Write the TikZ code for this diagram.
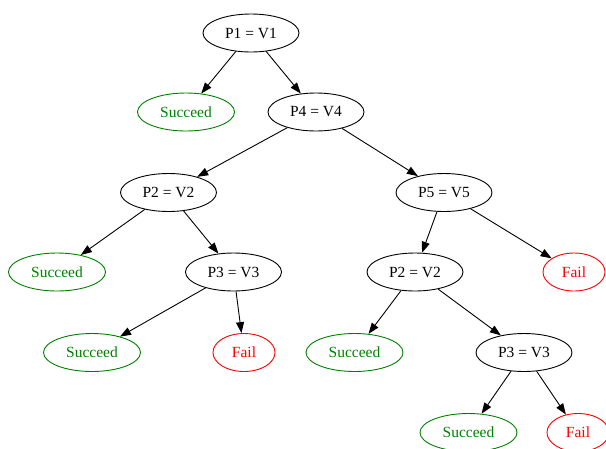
\documentclass[tikz,border=0pt]{standalone}
\usepackage{fontspec}
\setmainfont{Liberation Serif}
\usetikzlibrary{shapes.geometric,arrows.meta}
\definecolor{okgreen}{RGB}{0,128,0}
\definecolor{badred}{RGB}{255,0,0}
\begin{document}
\begin{tikzpicture}[x=1pt,y=-1pt,
  base/.style={ellipse,draw,line width=0.9pt,inner sep=0pt,minimum height=38pt,
    font=\fontsize{15.5}{18}\selectfont},
  cond/.style={base,minimum width=96pt,draw=black,text=black},
  okbox/.style={base,minimum width=97pt,draw=okgreen,text=okgreen},
  failbox/.style={base,minimum width=62pt,draw=badred,text=badred},
  edge/.style={line width=0.9pt,-{Triangle[length=11pt,width=8pt]}}]
\useasboundingbox (0,0) rectangle (606,448);
\clip (0,0) rectangle (606,448);
\node[cond] (p1) at (251,33) {P1 = V1};
\node[okbox] (s1) at (186,112) {Succeed};
\node[cond] (p4) at (316,112) {P4 = V4};
\node[cond] (p2a) at (168.5,192.5) {P2 = V2};
\node[cond] (p5) at (444,192.5) {P5 = V5};
\node[okbox] (s2) at (57,272) {Succeed};
\node[cond] (p3a) at (233.5,272) {P3 = V3};
\node[cond] (p2b) at (415,272) {P2 = V2};
\node[failbox] (f1) at (574,272) {Fail};
\node[okbox] (s3) at (92,352.5) {Succeed};
\node[failbox] (f2) at (244,352.5) {Fail};
\node[okbox] (s4) at (354.5,352.5) {Succeed};
\node[cond] (p3b) at (524,352.5) {P3 = V3};
\node[okbox] (s5) at (468.5,432.5) {Succeed};
\node[failbox] (f3) at (578,432.5) {Fail};
\draw[edge] (p1) -- (s1);
\draw[edge] (p1) -- (p4);
\draw[edge] (p4) -- (p2a);
\draw[edge] (p4) -- (p5);
\draw[edge] (p2a) -- (s2);
\draw[edge] (p2a) -- (p3a);
\draw[edge] (p3a) -- (s3);
\draw[edge] (p3a) -- (f2);
\draw[edge] (p5) -- (p2b);
\draw[edge] (p5) -- (f1);
\draw[edge] (p2b) -- (s4);
\draw[edge] (p2b) -- (p3b);
\draw[edge] (p3b) -- (s5);
\draw[edge] (p3b) -- (f3);
\end{tikzpicture}
\end{document}
